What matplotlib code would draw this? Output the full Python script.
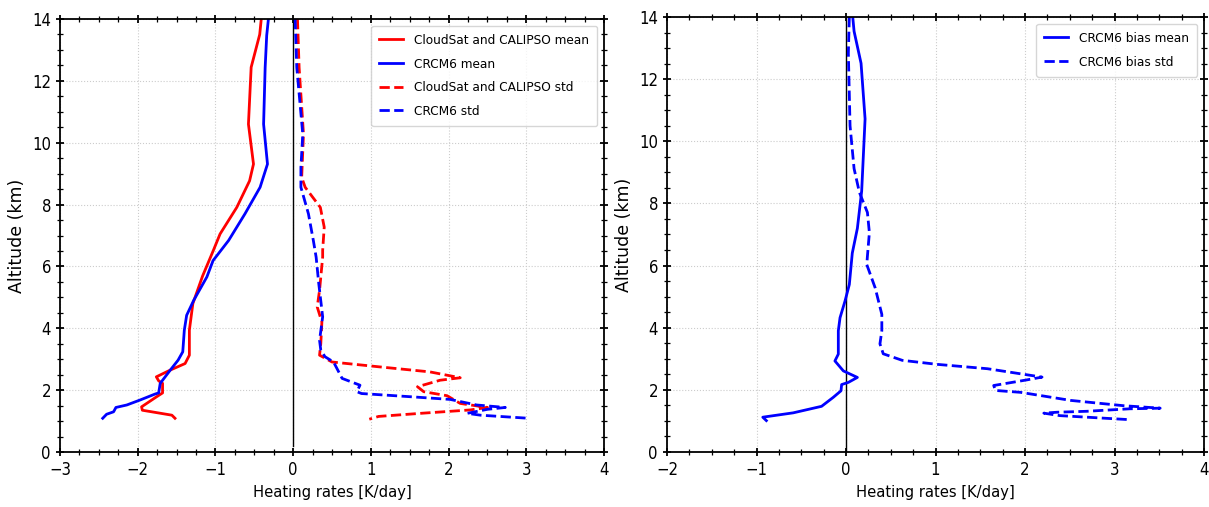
import matplotlib
matplotlib.use("Agg")
import matplotlib.pyplot as plt
from matplotlib.ticker import MultipleLocator

plt.rcParams['font.family'] = ['DejaVu Sans']
plt.rcParams['font.stretch'] = 'condensed'

# left panel: observed vs model heating rate profiles (K/day vs km)
obs_mean_alt = [14.0, 13.5, 12.44, 10.6, 9.31, 8.77, 7.91, 7.05, 6.52, 5.69, 4.80, 3.94, 3.13,
                2.86, 2.65, 2.43, 2.30, 2.22, 1.91, 1.78, 1.46, 1.35, 1.19, 1.09]
obs_mean = [-0.41, -0.43, -0.54, -0.575, -0.51, -0.56, -0.725, -0.94, -1.026, -1.165, -1.29, -1.335,
            -1.335, -1.39, -1.58, -1.76, -1.73, -1.68, -1.68, -1.76, -1.95, -1.94, -1.56, -1.52]

mod_mean_alt = [14.0, 13.47, 12.43, 10.6, 9.31, 8.56, 7.70, 6.84, 6.19, 5.66, 4.90, 4.42, 3.94,
                3.24, 2.97, 2.65, 2.22, 1.91, 1.87, 1.68, 1.52, 1.44, 1.30, 1.22, 1.09]
mod_mean = [-0.318, -0.34, -0.36, -0.38, -0.33, -0.425, -0.62, -0.83, -1.03, -1.11, -1.28, -1.37,
            -1.40, -1.42, -1.48, -1.58, -1.71, -1.73, -1.78, -1.97, -2.14, -2.28, -2.31, -2.40, -2.45]

obs_std_alt = [14.0, 12.43, 10.28, 8.88, 8.56, 7.91, 7.27, 6.52, 6.30, 5.23, 4.69, 4.20, 3.51, 3.13,
               2.91, 2.75, 2.59, 2.40, 2.32, 2.11, 1.95, 1.82, 1.57, 1.44, 1.36, 1.25, 1.15, 1.06]
obs_std = [0.056, 0.077, 0.133, 0.11, 0.155, 0.35, 0.40, 0.38, 0.38, 0.34, 0.31, 0.37, 0.356, 0.34,
           0.50, 1.12, 1.76, 2.15, 1.89, 1.60, 1.68, 1.98, 2.15, 2.50, 2.28, 1.64, 1.10, 0.98]

mod_std_alt = [14.0, 12.43, 10.28, 9.20, 8.56, 7.70, 6.84, 6.30, 5.44, 4.37, 3.61, 3.29, 3.08, 2.91,
               2.38, 2.16, 1.95, 1.89, 1.78, 1.70, 1.52, 1.44, 1.38, 1.25, 1.19, 1.09]
mod_std = [0.026, 0.047, 0.124, 0.10, 0.10, 0.197, 0.26, 0.296, 0.33, 0.38, 0.34, 0.356, 0.41, 0.52,
           0.63, 0.86, 0.82, 0.88, 1.55, 2.02, 2.36, 2.73, 2.50, 2.24, 2.41, 3.03]

# right panel: model bias
bias_mean_alt = [14.0, 13.54, 12.51, 10.72, 8.40, 7.20, 6.40, 5.39, 4.86, 4.32, 3.90, 3.15, 2.93,
                 2.61, 2.40, 2.24, 2.17, 1.97, 1.76, 1.47, 1.26, 1.12, 1.01]
bias_mean = [0.075, 0.09, 0.168, 0.213, 0.175, 0.127, 0.07, 0.037, -0.011, -0.067, -0.086, -0.086,
             -0.124, -0.03, 0.127, 0.026, -0.049, -0.056, -0.142, -0.273, -0.59, -0.93, -0.89]

bias_std_alt = [14.0, 12.84, 10.5, 9.12, 8.36, 7.71, 7.06, 6.30, 6.03, 5.28, 4.43, 3.90, 3.48, 3.16,
                2.95, 2.82, 2.68, 2.41, 2.32, 2.14, 1.98, 1.92, 1.66, 1.49, 1.41, 1.39, 1.31, 1.28,
                1.25, 1.17, 1.04]
bias_std = [0.037, 0.026, 0.045, 0.09, 0.149, 0.239, 0.261, 0.239, 0.232, 0.326, 0.40, 0.40, 0.379,
            0.416, 0.628, 1.02, 1.58, 2.19, 2.02, 1.65, 1.67, 1.95, 2.51, 3.10, 3.51, 3.17, 2.69,
            2.36, 2.21, 2.39, 3.17]


def style_axes(ax, xmin, xmax):
    ax.set_xlim(xmin, xmax)
    ax.set_ylim(0, 14)
    ax.xaxis.set_major_locator(MultipleLocator(1))
    ax.xaxis.set_minor_locator(MultipleLocator(0.25))
    ax.yaxis.set_major_locator(MultipleLocator(2))
    ax.yaxis.set_minor_locator(MultipleLocator(0.5))
    ax.tick_params(which='both', direction='inout', top=True, right=True, labelsize=12)
    ax.tick_params(which='major', length=6, width=1.3)
    ax.tick_params(which='minor', length=4, width=0.9)
    for s in ax.spines.values():
        s.set_linewidth(1.3)
    ax.grid(True, which='major', linestyle=':', color='#cccccc', linewidth=0.8)
    ax.set_xlabel('Heating rates [K/day]', fontsize=11.8)
    ax.set_ylabel('Altitude (km)', fontsize=12.5, fontstretch='normal')


fig = plt.figure(figsize=(12.09, 5.07), dpi=100)

ax1 = fig.add_axes([0.0496, 0.1085, 0.45, 0.854])
ax1.plot([0, 0], [0.2, 14], color='k', lw=1)
ax1.plot(obs_mean, obs_mean_alt, color='red', lw=2, label='CloudSat and CALIPSO mean')
ax1.plot(mod_mean, mod_mean_alt, color='blue', lw=2, label='CRCM6 mean')
ax1.plot(obs_std, obs_std_alt, color='red', lw=2, ls='--', label='CloudSat and CALIPSO std')
ax1.plot(mod_std, mod_std_alt, color='blue', lw=2, ls='--', label='CRCM6 std')
style_axes(ax1, -3, 4)
ax1.legend(loc='upper right', fontsize=9.7, labelspacing=0.8, borderpad=0.6, handlelength=1.8)

ax2 = fig.add_axes([0.5517, 0.1085, 0.4442, 0.858])
ax2.plot([0, 0], [0, 14], color='k', lw=1)
ax2.plot(bias_mean, bias_mean_alt, color='blue', lw=2, label='CRCM6 bias mean')
ax2.plot(bias_std, bias_std_alt, color='blue', lw=2, ls='--', label='CRCM6 bias std')
style_axes(ax2, -2, 4)
ax2.legend(loc='upper right', fontsize=9.7, labelspacing=0.8, borderpad=0.6, handlelength=1.8)

fig.savefig('out.png', dpi=100)
